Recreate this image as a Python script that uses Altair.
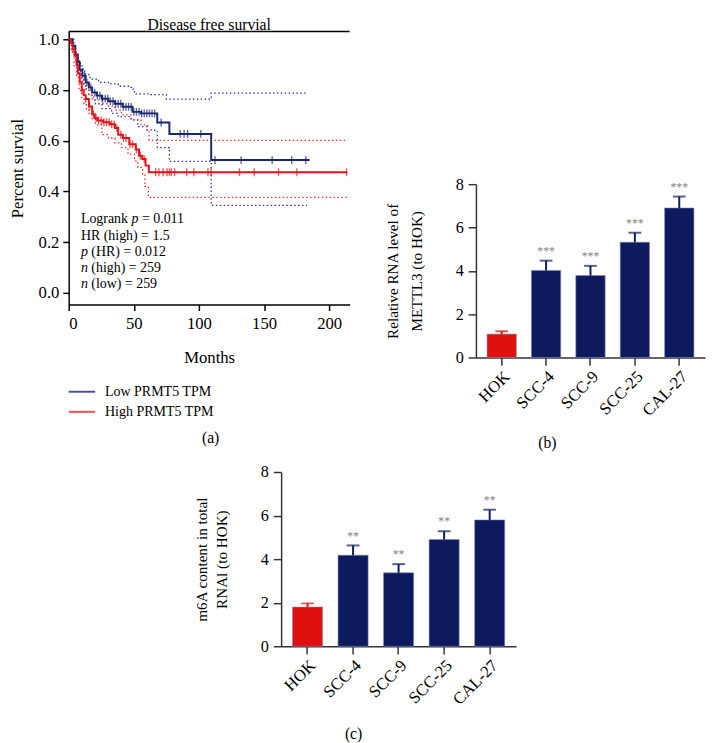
import altair as alt
import pandas as pd

FONT = "Liberation Serif"

# ---------------- Panel (a): Kaplan-Meier, disease free survival ----------------
series_names = ["Low PRMT5 TPM", "High PRMT5 TPM"]
line_colors = ["#1b2672", "#e0141b"]
ci_colors = ["#2b35a0", "#ec2a2a"]
legend_colors = ["#4a5292", "#e85454"]

low_t = [0, 3, 5, 7, 8.5, 10.5, 13, 15.5, 18, 21.5, 25.5, 30.5, 35.5, 41.5, 49, 55.5, 68, 77.3, 109.4, 185]
low_s = [1.0, 0.975, 0.94, 0.91, 0.88, 0.856, 0.83, 0.81, 0.79, 0.778, 0.766, 0.756, 0.746, 0.734, 0.714, 0.708, 0.672, 0.627, 0.524, 0.524]
high_t = [0, 1.5, 3, 4.5, 6, 7, 8.5, 10, 11.5, 13, 15.5, 18, 20, 22, 26.5, 31.5, 35.5, 38, 41.5, 46.5, 51.5, 54, 56.5, 59, 61.5, 214]
high_s = [1.0, 0.985, 0.96, 0.935, 0.9, 0.865, 0.83, 0.8, 0.78, 0.765, 0.735, 0.705, 0.69, 0.68, 0.673, 0.665, 0.65, 0.624, 0.611, 0.586, 0.566, 0.541, 0.528, 0.502, 0.476, 0.476]

low_up_t = [0, 4, 5.5, 7, 9, 11, 13, 15.5, 18, 23, 30.5, 38, 48, 50.5, 63, 75, 109.4, 182]
low_up_s = [1.0, 0.96, 0.935, 0.915, 0.895, 0.875, 0.862, 0.85, 0.843, 0.83, 0.824, 0.815, 0.804, 0.785, 0.782, 0.764, 0.788, 0.788]
low_lo_t = [0, 3, 5.5, 7, 9, 11.5, 13.5, 15.5, 18, 20.5, 25.5, 33, 38, 48, 53, 60, 66, 68, 77.3, 109.4, 183]
low_lo_s = [1.0, 0.95, 0.907, 0.875, 0.849, 0.817, 0.8, 0.779, 0.76, 0.746, 0.727, 0.708, 0.695, 0.682, 0.656, 0.643, 0.637, 0.573, 0.519, 0.345, 0.345]
high_up_t = [0, 2, 3, 5.5, 8, 10, 11.7, 13.5, 15.5, 19, 25.5, 30.5, 35.5, 40.5, 48, 55.5, 60.5, 61.8, 214]
high_up_s = [1.0, 0.985, 0.965, 0.92, 0.862, 0.835, 0.817, 0.8, 0.779, 0.76, 0.746, 0.737, 0.721, 0.702, 0.682, 0.663, 0.643, 0.602, 0.602]
high_lo_t = [0, 2, 4.2, 6, 8, 10, 11.7, 13.5, 15.5, 18, 20.5, 25.5, 30.5, 35.5, 40.5, 45.5, 50.5, 53, 56.8, 58.5, 61.2, 214]
high_lo_s = [1.0, 0.95, 0.895, 0.85, 0.798, 0.77, 0.746, 0.725, 0.708, 0.685, 0.663, 0.624, 0.611, 0.592, 0.573, 0.547, 0.521, 0.495, 0.47, 0.42, 0.377, 0.377]

low_cens = [12, 14, 17, 20, 22, 24, 26, 28, 30, 32, 34, 36, 38, 40, 42, 44, 46, 48, 50, 52, 54, 56, 58,
            60, 62, 64, 66, 71, 85.6, 88.6, 91.3, 101.4, 112.3, 132.4, 156.2, 171.2, 182]
high_cens = [10, 13, 16, 19, 21, 23, 25, 27, 29, 31, 33, 35, 37, 40, 42, 44, 47, 49, 52, 55, 58,
             66.8, 69.3, 72.5, 75.5, 77.3, 78.8, 81.3, 90.6, 96.1, 106.9, 109.3, 131.1, 142.4,
             161.1, 175.2, 213.3]

stats_lines = [
    [("Logrank ", "normal"), ("p", "italic"), (" = 0.011", "normal")],
    [("HR (high) = 1.5", "normal")],
    [("p", "italic"), (" (HR) = 0.012", "normal")],
    [("n", "italic"), (" (high) = 259", "normal")],
    [("n", "italic"), (" (low) = 259", "normal")],
]
km_title = "Disease free survial"
km_x_ticks = [0, 50, 100, 150, 200]
km_y_ticks = [0.0, 0.2, 0.4, 0.6, 0.8, 1.0]

# ---------------- Panels (b) and (c): bar charts ----------------
cells = ["HOK", "SCC-4", "SCC-9", "SCC-25", "CAL-27"]
bar_colors = ["#e01010", "#0d1a5e", "#0d1a5e", "#0d1a5e", "#0d1a5e"]
mettl3_mean = [1.08, 4.02, 3.78, 5.32, 6.9]
mettl3_sd = [0.13, 0.45, 0.45, 0.44, 0.53]
mettl3_sig = ["", "***", "***", "***", "***"]
m6a_mean = [1.8, 4.18, 3.37, 4.9, 5.8]
m6a_sd = [0.17, 0.45, 0.4, 0.38, 0.47]
m6a_sig = ["", "**", "**", "**", "**"]
bar_y_ticks = [0, 2, 4, 6, 8]

# Times / Liberation Serif advance widths (per 1000 em) for placing italic pieces
ADV = {' ': 250, 'L': 611, 'o': 500, 'g': 500, 'r': 333, 'a': 444, 'n': 500, 'k': 500, 'p': 500,
       '=': 564, '0': 500, '1': 500, '2': 500, '5': 500, '9': 500, '.': 250, 'H': 722, 'R': 667,
       '(': 333, ')': 333, 'h': 500, 'i': 278, 'l': 278, 'w': 722}


def text_width(s, size):
    return sum(ADV.get(c, 500) for c in s) * size / 1000.0


# ---------------- build panel (a) ----------------
WA, HA = 287, 279


def step_frame(t, s, key, col):
    return pd.DataFrame({"t": t, "s": s, "key": key, "col": col})


def value_at(ts, ss, x):
    v = ss[0]
    for ti, si in zip(ts, ss):
        if ti <= x:
            v = si
    return v


main_df = pd.concat([
    step_frame(low_t, low_s, "low", line_colors[0]),
    step_frame(high_t, high_s, "high", line_colors[1]),
])
ci_df = pd.concat([
    step_frame(low_up_t, low_up_s, "low_up", ci_colors[0]),
    step_frame(low_lo_t, low_lo_s, "low_lo", ci_colors[0]),
    step_frame(high_up_t, high_up_s, "high_up", ci_colors[1]),
    step_frame(high_lo_t, high_lo_s, "high_lo", ci_colors[1]),
])
cens_df = pd.concat([
    pd.DataFrame({"t": low_cens, "s": [value_at(low_t, low_s, c) for c in low_cens], "col": line_colors[0]}),
    pd.DataFrame({"t": high_cens, "s": [value_at(high_t, high_s, c) for c in high_cens], "col": line_colors[1]}),
])

xA = alt.X("t:Q", scale=alt.Scale(domain=[0, 215.7], nice=False, zero=False),
           axis=alt.Axis(values=km_x_ticks, title="Months", titleFontSize=17, titlePadding=19,
                         labelFontSize=17, tickSize=6, labelPadding=5, format="d"))
yA = alt.Y("s:Q", scale=alt.Scale(domain=[-0.046, 1.031], nice=False, zero=False),
           axis=alt.Axis(values=km_y_ticks, format=".1f", title="Percent survial", titleFontSize=17,
                         titlePadding=12, labelFontSize=17, tickSize=6, labelPadding=4))

ci_layer = alt.Chart(ci_df).mark_line(interpolate="step-after", strokeWidth=1.3, strokeDash=[1.5, 2.5]).encode(
    x=xA, y=yA, detail="key:N", color=alt.Color("col:N", scale=None))
main_layer = alt.Chart(main_df).mark_line(interpolate="step-after", strokeWidth=2).encode(
    x=xA, y=yA, detail="key:N", color=alt.Color("col:N", scale=None))
cens_layer = alt.Chart(cens_df).mark_tick(orient="vertical", size=8, thickness=1.4).encode(
    x=xA, y=yA, color=alt.Color("col:N", scale=None))
top_rule = alt.Chart(pd.DataFrame({"z": [0]})).mark_rule(color="black", strokeWidth=1.5).encode(
    x=alt.value(0), x2=alt.value(WA), y=alt.value(0))
title_a = alt.Chart(pd.DataFrame({"txt": [km_title]})).mark_text(
    font=FONT, fontSize=16, baseline="top", align="center", color="black").encode(
    x=alt.value(WA / 2), y=alt.value(-15), text="txt:N")

ANN = 14.2
text_layers = []
for i, line in enumerate(stats_lines):
    xpos = 12.5
    for seg, style in line:
        lead = len(seg) - len(seg.lstrip(" "))
        xpos += text_width(" " * lead, ANN)
        shown = seg.strip(" ")
        text_layers.append(
            alt.Chart(pd.DataFrame({"txt": [shown]})).mark_text(
                font=FONT, fontSize=ANN, fontStyle=style, align="left", baseline="alphabetic", color="black"
            ).encode(x=alt.value(xpos), y=alt.value(196 + i * 16.6), text="txt:N")
        )
        xpos += text_width(seg.lstrip(" "), ANN)

legend_layers = []
for i, (name, col) in enumerate(zip(series_names, legend_colors)):
    ypix = HA + 89 + i * 20.5
    legend_layers.append(alt.Chart(pd.DataFrame({"z": [0]})).mark_rule(color=col, strokeWidth=2).encode(
        x=alt.value(0), x2=alt.value(27), y=alt.value(ypix)))
    legend_layers.append(alt.Chart(pd.DataFrame({"txt": [name]})).mark_text(
        font=FONT, fontSize=14.3, align="left", baseline="middle", color="black").encode(
        x=alt.value(37), y=alt.value(ypix), text="txt:N"))

label_a = alt.Chart(pd.DataFrame({"txt": ["(a)"]})).mark_text(
    font=FONT, fontSize=16, baseline="middle", color="black").encode(
    x=alt.value(145), y=alt.value(415), text="txt:N")

panelA = alt.layer(ci_layer, main_layer, cens_layer, top_rule, title_a, *text_layers, *legend_layers,
                   label_a).properties(width=WA, height=HA)


# ---------------- bar panel builder ----------------
def bar_panel(mean, sd, sig, ytitle, W, H, tag, tag_x, tag_y, title_pad, title_lh):
    df = pd.DataFrame({"cell": cells, "mean": mean, "hi": [m + s for m, s in zip(mean, sd)],
                       "col": bar_colors, "sig": sig})
    xaxis = alt.Axis(title=None, labelAngle=-45, labelFontSize=17, tickSize=8, labelPadding=3,
                     domainWidth=1.5, tickWidth=1.5, domainColor="#333333", tickColor="#333333")
    xscale = alt.Scale(paddingInner=0.34, paddingOuter=0.25)
    yaxis = alt.Axis(values=bar_y_ticks, title=ytitle, titleFontSize=15.5, titleLineHeight=title_lh,
                     titlePadding=title_pad, labelFontSize=16.5, tickSize=8, labelPadding=5,
                     domainWidth=1.5, tickWidth=1.5, domainColor="#333333", tickColor="#333333")
    yscale = alt.Scale(domain=[0, 8], nice=False)

    def X():
        return alt.X("cell:N", sort=cells, scale=xscale, axis=xaxis)

    def Y(f):
        return alt.Y(f + ":Q", scale=yscale, axis=yaxis)

    colr = alt.Color("col:N", scale=None)
    bars = alt.Chart(df).mark_bar(stroke="#7d86b5", strokeWidth=0.6).encode(x=X(), y=Y("mean"), color=colr)
    err = alt.Chart(df).mark_rule(strokeWidth=2).encode(x=X(), y=Y("mean"), y2="hi:Q", color=colr)
    cap = alt.Chart(df).mark_tick(orient="horizontal", size=13, thickness=2).encode(
        x=X(), y=Y("hi"), color=colr)
    stars = alt.Chart(df).mark_text(font=FONT, fontSize=12, baseline="bottom", dy=-3, color="#808080").encode(
        x=X(), y=Y("hi"), text="sig:N")
    lab = alt.Chart(pd.DataFrame({"txt": [tag]})).mark_text(
        font=FONT, fontSize=16, baseline="middle", color="black").encode(
        x=alt.value(tag_x), y=alt.value(tag_y), text="txt:N")
    return alt.layer(bars, err, cap, stars, lab).properties(width=W, height=H)


panelB = bar_panel(mettl3_mean, mettl3_sd, mettl3_sig, ["Relative RNA level of", "METTL3 (to HOK)"],
                   234, 177, "(b)", 73, 264, 31, 25)
panelC = bar_panel(m6a_mean, m6a_sd, m6a_sig, ["m6A content in total", "RNAl (to HOK)"],
                   240, 178, "(c)", 74, 268, 32, 20)


def spacer(w, h):
    return alt.Chart(pd.DataFrame({"z": [0]})).mark_point(opacity=0).encode(
        x=alt.value(0), y=alt.value(0)).properties(width=w, height=h)


row1 = alt.hconcat(panelA, alt.vconcat(spacer(1, 146), panelB, spacing=0), spacing=33)
row2 = alt.hconcat(spacer(127, 1), panelC, spacing=0)

chart = alt.vconcat(row1, row2, spacing=12).properties(padding=0).configure_view(
    stroke="transparent"
).configure_axis(
    labelFont=FONT, titleFont=FONT, labelColor="black", titleColor="black", titleFontWeight="normal",
    domainColor="black", tickColor="black", domainWidth=1.5, tickWidth=1.5, grid=False
)

chart.save("out.html", embed_options={"renderer": "svg", "actions": False})
